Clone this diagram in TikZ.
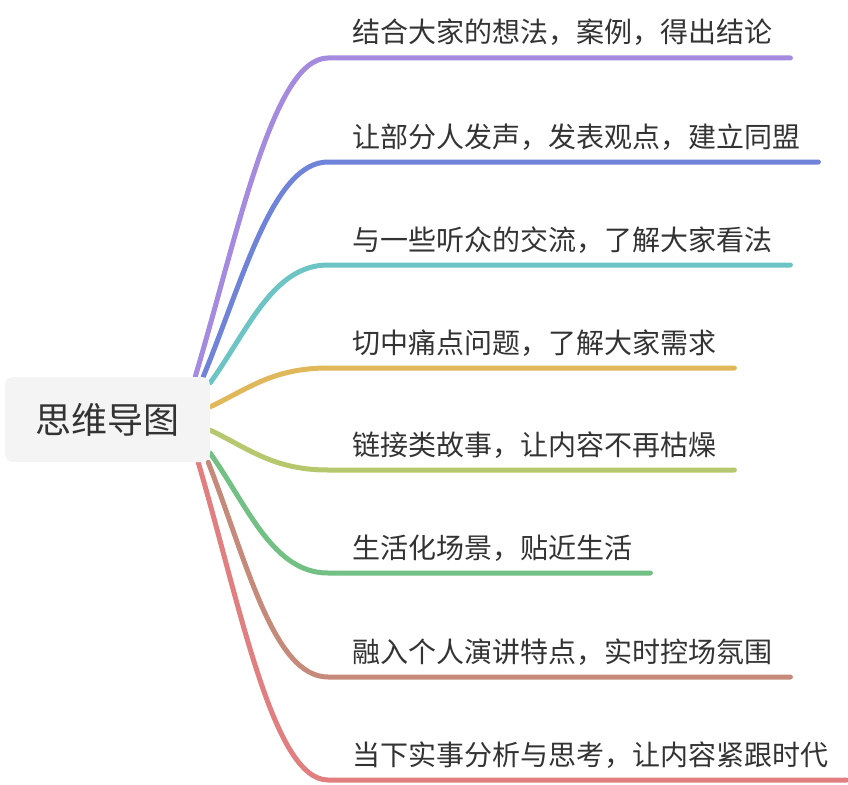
\documentclass[tikz,border=0pt]{standalone}
\usepackage{fontspec}
\setmainfont{Noto Sans CJK SC}
\usepackage{xcolor}
\usepackage{tikz}
\usetikzlibrary{backgrounds}

\definecolor{textgray}{HTML}{333333}
\definecolor{rootgray}{HTML}{F4F4F4}
\definecolor{cpurple}{HTML}{A48BE0}
\definecolor{cblue}{HTML}{6F83D9}
\definecolor{cteal}{HTML}{6CC4C4}
\definecolor{cgold}{HTML}{E0B85A}
\definecolor{colive}{HTML}{B5C86E}
\definecolor{cgreen}{HTML}{72C083}
\definecolor{cbrown}{HTML}{C58A7A}
\definecolor{cred}{HTML}{E07E80}

\begin{document}
\begin{tikzpicture}[
    x=1pt, y=1pt,
    root/.style={rectangle, fill=rootgray, rounded corners=8pt, minimum width=205pt, minimum height=85pt, inner sep=0pt, font=\fontsize{36}{42}\selectfont, text=textgray},
    leaf/.style={anchor=base west, inner sep=0pt, font=\fontsize{28}{32}\selectfont, text=textgray},
    branch/.style={line width=5pt, line cap=round},
]
\useasboundingbox (0,0) rectangle (848,-784);

\node[root] (map) at (107.5,-419.5) {思维导图};

\node[leaf] (n1) at (352,-43) {结合大家的想法，案例，得出结论};
\node[leaf] (n2) at (352,-147) {让部分人发声，发表观点，建立同盟};
\node[leaf] (n3) at (352,-250) {与一些听众的交流，了解大家看法};
\node[leaf] (n4) at (352,-353) {切中痛点问题，了解大家需求};
\node[leaf] (n5) at (352,-455) {链接类故事，让内容不再枯燥};
\node[leaf] (n6) at (352,-558) {生活化场景，贴近生活};
\node[leaf] (n7) at (352,-662) {融入个人演讲特点，实时控场氛围};
\node[leaf] (n8) at (352,-765) {当下实事分析与思考，让内容紧跟时代};

\begin{scope}[on background layer]
\draw[branch, cpurple] ([xshift=-15pt]map.north east) .. controls +(43,144) and +(-55,0) .. ([shift={(-24pt,-15pt)}]n1.base west) -- ([shift={(18pt,-15pt)}]n1.base east);
\draw[branch, cblue] ([xshift=-7pt]map.north east) .. controls +(40,97) and +(-55,0) .. ([shift={(-24pt,-15pt)}]n2.base west) -- ([shift={(18pt,-15pt)}]n2.base east);
\draw[branch, cteal] ([yshift=-6pt]map.north east) .. controls +(38,53) and +(-55,0) .. ([shift={(-24pt,-15pt)}]n3.base west) -- ([shift={(18pt,-15pt)}]n3.base east);
\draw[branch, cgold] ([yshift=-30pt]map.north east) .. controls +(38,18) and +(-55,0) .. ([shift={(-24pt,-15pt)}]n4.base west) -- ([shift={(18pt,-15pt)}]n4.base east);
\draw[branch, colive] ([yshift=32pt]map.south east) .. controls +(38,-18) and +(-55,0) .. ([shift={(-24pt,-15pt)}]n5.base west) -- ([shift={(18pt,-15pt)}]n5.base east);
\draw[branch, cgreen] ([yshift=9pt]map.south east) .. controls +(38,-54) and +(-55,0) .. ([shift={(-24pt,-15pt)}]n6.base west) -- ([shift={(18pt,-15pt)}]n6.base east);
\draw[branch, cbrown] ([xshift=-2pt]map.south east) .. controls +(38,-97) and +(-55,0) .. ([shift={(-24pt,-15pt)}]n7.base west) -- ([shift={(18pt,-15pt)}]n7.base east);
\draw[branch, cred] ([xshift=-12pt]map.south east) .. controls +(42,-143) and +(-55,0) .. ([shift={(-24pt,-15pt)}]n8.base west) -- ([shift={(18pt,-15pt)}]n8.base east);
\end{scope}
\end{tikzpicture}
\end{document}
